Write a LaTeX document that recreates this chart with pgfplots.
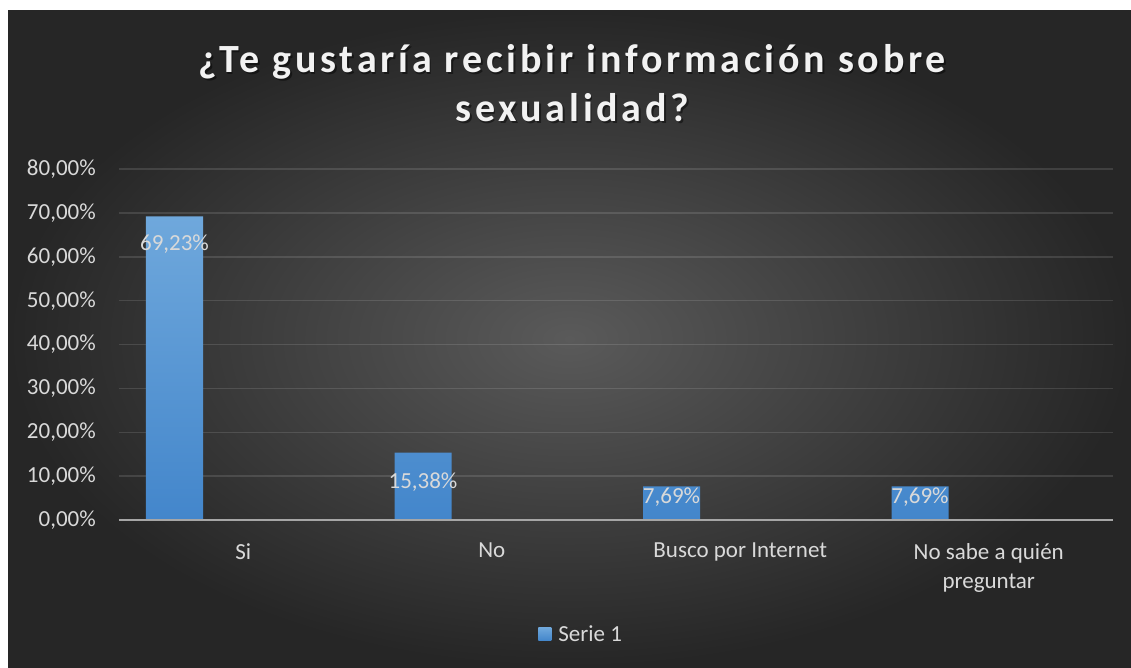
\documentclass[border=0pt]{standalone}
\usepackage{pgfplots}
\pgfplotsset{compat=1.18}
\usepackage{fontspec}
\setmainfont{Carlito}
\definecolor{bgc}{HTML}{5A5A5A}
\definecolor{bge}{HTML}{262626}
\definecolor{bartop}{HTML}{6FA8DC}
\definecolor{barbot}{HTML}{4386CB}
\definecolor{txt}{HTML}{D9D9D9}
\definecolor{axgray}{HTML}{A6A6A6}
\definecolor{titlec}{HTML}{F2F2F2}
\begin{document}
\begin{tikzpicture}[x=1pt,y=1pt]
\path[use as bounding box] (0,0) rectangle (1131,667);
\fill[white] (0,0) rectangle (1131,667);
\shade[inner color=bgc, outer color=bge] (8,0) rectangle (1131,656);
% title
\begin{scope}[every node/.style={inner sep=0pt, anchor=base, font=\fontsize{40}{46}\selectfont\bfseries\addfontfeature{LetterSpace=9.5}}]
\node[text=black, opacity=0.45] at (574,592.5) {¿Te gustaría recibir información sobre};
\node[text=black, opacity=0.45] at (574,543.5) {sexualidad?};
\node[text=titlec] at (572.5,594) {¿Te gustaría recibir información sobre};
\node[text=titlec] at (572.5,545) {sexualidad?};
\end{scope}
\begin{axis}[
  at={(119pt,147pt)}, anchor=south west,
  scale only axis, width=994pt, height=351pt,
  xmin=-0.5, xmax=3.5, ymin=0, ymax=80,
  axis line style={draw=none},
  major tick length=0pt,
  ytick={0,10,20,30,40,50,60,70,80},
  yticklabels={{0,00\%},{10,00\%},{20,00\%},{30,00\%},{40,00\%},{50,00\%},{60,00\%},{70,00\%},{80,00\%}},
  xtick={0,1,2,3},
  xticklabels={Si,No,Busco por Internet,{No sabe a quién\\preguntar}},
  ymajorgrids,
  grid style={draw=white, opacity=0.12, line width=1.5pt},
  /pgf/number format/assume math mode=true,
  yticklabel style={font=\fontsize{23}{28}\selectfont, text=txt, inner sep=0pt, anchor=east, xshift=-23pt},
  xticklabel style={font=\fontsize{23}{29}\selectfont, text=txt, inner sep=0pt, anchor=north, yshift=-23pt, align=center},
  legend style={at={(0.465,-0.325)}, anchor=center, draw=none, fill=none, font=\fontsize{23}{28}\selectfont, text=txt},
]
\addplot[ybar, bar width=57pt, bar shift=-68.75pt, draw=none, top color=bartop, bottom color=barbot,
  legend image code/.code={\shade[top color=bartop, bottom color=barbot] (0pt,-6.5pt) rectangle (13pt,6.5pt);}]
  coordinates {(0,69.23) (1,15.38) (2,7.69) (3,7.69)};
\addlegendentry{\hspace{5pt}Serie 1}
\addplot[draw=none, mark=none, forget plot, nodes near coords, point meta=explicit symbolic,
  nodes near coords style={anchor=base, inner sep=0pt, text=txt, font=\fontsize{23}{28}\selectfont, xshift=-68.75pt}]
  coordinates {(0,61.54) [69,23\%] (1,7.29) [15,38\%] (2,3.81) [7,69\%] (3,3.81) [7,69\%]};
\draw[axgray, line width=2pt] (rel axis cs:0,0) -- (rel axis cs:1,0);
\end{axis}
\end{tikzpicture}
\end{document}
